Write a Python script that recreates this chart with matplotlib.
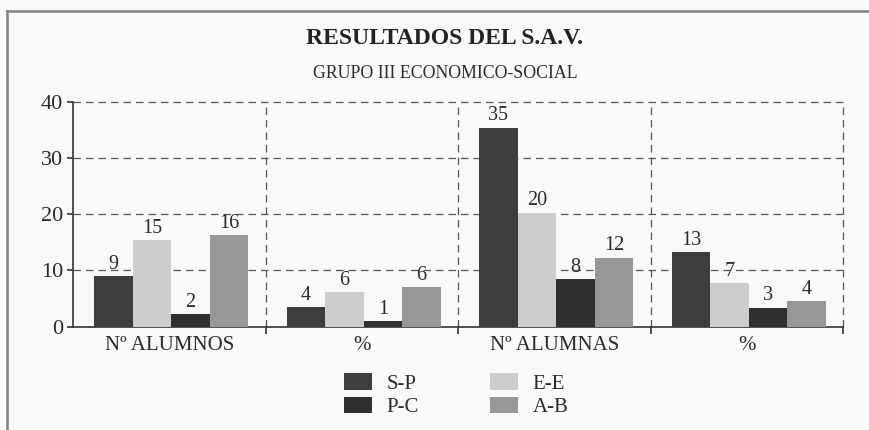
import numpy as np
import matplotlib
matplotlib.use("Agg")
import matplotlib.pyplot as plt

# categories and series (bar heights, labels as printed)
groups = ["Nº ALUMNOS", "%", "Nº ALUMNAS", "%"]
series = ["S-P", "E-E", "P-C", "A-B"]

sp_vals = [9.0, 3.5, 35.4, 13.2]
ee_vals = [15.4, 6.2, 20.3, 7.7]
pc_vals = [2.2, 1.0, 8.4, 3.4]
ab_vals = [16.3, 7.0, 12.3, 4.6]

sp_labels = ["9", "4", "35", "13"]
ee_labels = ["15", "6", "20", "7"]
pc_labels = ["2", "1", "8", "3"]
ab_labels = ["16", "6", "12", "4"]

y_ticks = [0, 10, 20, 30, 40]

colors = {"S-P": "#3d3d3d", "E-E": "#cdcdcd", "P-C": "#303030", "A-B": "#979797"}

plt.rcParams["font.family"] = ["Liberation Serif", "DejaVu Serif"]

fig = plt.figure(figsize=(8.69, 4.30), dpi=100)
fig.patch.set_facecolor("#f8f9f9")

# outer frame of the scanned figure (only top and left edges visible)
fig.add_artist(plt.Line2D([7 / 869, 1.0], [1 - 11 / 430, 1 - 11 / 430],
                          transform=fig.transFigure, color="#808080", lw=1.8))
fig.add_artist(plt.Line2D([7 / 869, 7 / 869], [0.0, 1 - 11 / 430],
                          transform=fig.transFigure, color="#808080", lw=1.8))

ax = fig.add_axes([73 / 869, 1 - 326.7 / 430, 770 / 869, 225 / 430])
ax.set_facecolor("none")

x = np.arange(len(groups))
w = 0.2
offsets = [-0.3, -0.1, 0.1, 0.3]
all_vals = [sp_vals, ee_vals, pc_vals, ab_vals]
all_labels = [sp_labels, ee_labels, pc_labels, ab_labels]

bars = {}
for name, vals, labs, off in zip(series, all_vals, all_labels, offsets):
    b = ax.bar(x + off + 0.01, vals, width=w, color=colors[name],
               edgecolor="none", zorder=3, label=name)
    bars[name] = b
    for xi, v, t in zip(x + off + 0.01, vals, labs):
        ax.text(xi, v + 0.4, t, ha="center", va="bottom", fontsize=14.5,
                color="#2a2a2a", zorder=4)

ax.set_xlim(-0.5, 3.5)
ax.set_ylim(0, 40)

# dashed grid
for yv in y_ticks[1:]:
    ax.axhline(yv, color="#555555", lw=0.9, ls=(0, (6, 4)), zorder=1, clip_on=False)
for xv in [0.5, 1.5, 2.5, 3.5]:
    ax.axvline(xv, color="#555555", lw=0.9, ls=(0, (6, 4)), zorder=1, clip_on=False)

for s in ["top", "right"]:
    ax.spines[s].set_visible(False)
for s in ["left", "bottom"]:
    ax.spines[s].set_color("#333333")
    ax.spines[s].set_linewidth(1.2)

ax.set_yticks(y_ticks)
ax.tick_params(axis="y", labelsize=16, length=4, width=1.2, color="#333333",
               labelcolor="#2a2a2a", pad=3)

ax.set_xticks([0.5, 1.5, 2.5, 3.5])
ax.set_xticklabels([])
ax.set_xticks(x, minor=True)
ax.set_xticklabels(groups, minor=True)
ax.tick_params(axis="x", which="major", length=5, width=1.2, color="#333333")
ax.tick_params(axis="x", which="minor", length=0, labelsize=15,
               labelcolor="#2a2a2a", pad=7)

fig.text(0.512, 1 - 38 / 430, "RESULTADOS DEL S.A.V.", ha="center", va="center",
         fontsize=17, fontweight="bold", color="#222222")
fig.text(0.512, 1 - 73 / 430, "GRUPO III ECONOMICO-SOCIAL", ha="center",
         va="center", fontsize=12.8, color="#2a2a2a")

handles = [bars["S-P"], bars["P-C"], bars["E-E"], bars["A-B"]]
labels = ["S-P", "P-C", "E-E", "A-B"]
fig.legend(handles, labels, loc="upper left", bbox_to_anchor=(344 / 869, 1 - 373 / 430),
           ncol=2, frameon=False, fontsize=15, handlelength=1.35, handleheight=0.85,
           handletextpad=0.7, columnspacing=3.4, labelspacing=0.15,
           borderpad=0, borderaxespad=0, labelcolor="#2a2a2a")

fig.savefig("out.png", dpi=100, facecolor=fig.get_facecolor())
